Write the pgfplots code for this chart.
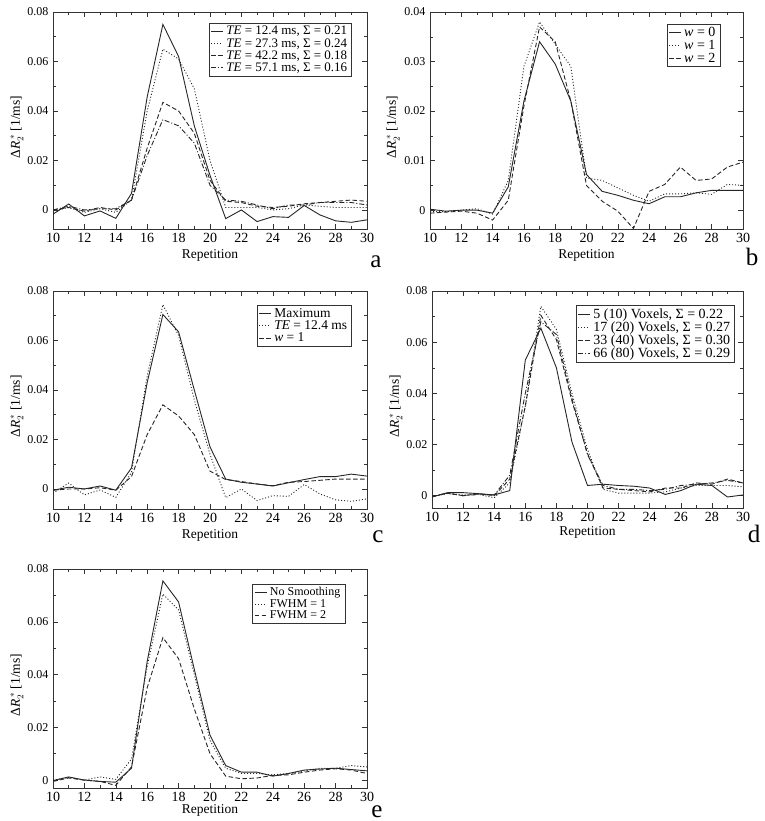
\documentclass[border=0pt]{standalone}
\usepackage{pgfplots}
\pgfplotsset{compat=1.18}
\usepackage{fontspec}
\setmainfont{Liberation Serif}

\pgfplotsset{
  panel/.style={
    scale only axis,
    xmin=10, xmax=30,
    xtick={10,12,...,30},
    minor x tick num=1, minor y tick num=1,
    tick align=inside, xtick pos=both, ytick pos=both,
    major tick length=5pt, minor tick length=3pt,
    axis line style={black!80, line width=0.6pt},
    every tick/.style={black!80, line width=0.5pt},
    scaled y ticks=false,
    /pgf/number format/assume math mode=true,
    yticklabel style={/pgf/number format/fixed, /pgf/number format/precision=2,
      font=\fontsize{12}{14}\selectfont, xshift=-1pt},
    xticklabel style={font=\fontsize{14}{16}\selectfont, yshift=-1pt},
    label style={font=\fontsize{13.5}{15}\selectfont},
    xlabel={Repetition},
    ylabel={Δ\textit{R}$_2^{\,*}$ [1/ms]},
    xlabel style={anchor=base},
    ylabel style={anchor=center},
    legend cell align=left,
    legend style={draw=black!80, line width=0.5pt,
      anchor=north east, inner xsep=2pt, inner ysep=1pt, row sep=-2pt,
      nodes={inner xsep=2.5pt}},
    legend image code/.code={\draw[#1] plot coordinates {(0pt,0pt) (12pt,0pt)};},
  },
  s1/.style={black!85, line width=0.9pt},
  s2/.style={black!85, line width=0.9pt, dash pattern=on 1pt off 2pt},
  s3/.style={black!85, line width=0.9pt, dash pattern=on 4.5pt off 2.5pt},
  s4/.style={black!85, line width=0.9pt, dash pattern=on 5pt off 2pt on 1pt off 2pt},
}
\tikzset{letter/.style={font=\fontsize{25}{27}\selectfont, anchor=base, inner sep=1pt}}

\begin{document}
\begin{tikzpicture}
\path[use as bounding box] (0pt,0pt) rectangle (764pt,-821pt);

% panel a
\begin{axis}[panel, at={(53pt,-12pt)}, anchor=north west, width=314pt, height=217pt,
  ymin=-0.0077, ymax=0.08, ytick={0,0.02,0.04,0.06,0.08},
  xlabel style={at={(axis description cs:0.5,-0.138)}},
  ylabel style={at={(axis description cs:-0.115,0.47)}},
  legend style={font=\fontsize{13}{14}\selectfont, at={(axis description cs:0.952,0.949)}}]
\addplot[s1] coordinates {(10,-0.0017) (11,0.0024) (12,-0.0024) (13,-0.0004) (14,-0.0034) (15,0.0067) (16,0.0457) (17,0.075) (18,0.062) (19,0.034) (20,0.014) (21,-0.0035) (22,0.0) (23,-0.0047) (24,-0.0027) (25,-0.003) (26,0.0018) (27,-0.002) (28,-0.0044) (29,-0.005) (30,-0.004)};
\addlegendentry{\textit{TE} = 12.4 ms, Σ = 0.21}
\addplot[s2] coordinates {(10,-0.0005) (11,0.001) (12,-0.001) (13,0.0005) (14,-0.001) (15,0.004) (16,0.04) (17,0.065) (18,0.061) (19,0.049) (20,0.02) (21,0.001) (22,0.001) (23,0.001) (24,0.0) (25,0.0005) (26,0.002) (27,0.0015) (28,0.001) (29,0.001) (30,0.001)};
\addlegendentry{\textit{TE} = 27.3 ms, Σ = 0.24}
\addplot[s3] coordinates {(10,0.0) (11,0.001) (12,-0.0005) (13,0.001) (14,0.0) (15,0.004) (16,0.025) (17,0.0435) (18,0.040) (19,0.031) (20,0.012) (21,0.0035) (22,0.003) (23,0.0015) (24,0.001) (25,0.0015) (26,0.0025) (27,0.003) (28,0.0035) (29,0.004) (30,0.0035)};
\addlegendentry{\textit{TE} = 42.2 ms, Σ = 0.18}
\addplot[s4] coordinates {(10,0.0) (11,0.0015) (12,0.0) (13,0.0005) (14,0.0005) (15,0.004) (16,0.022) (17,0.0365) (18,0.034) (19,0.027) (20,0.010) (21,0.004) (22,0.0035) (23,0.002) (24,0.0005) (25,0.002) (26,0.002) (27,0.003) (28,0.003) (29,0.003) (30,0.002)};
\addlegendentry{\textit{TE} = 57.1 ms, Σ = 0.16}
\end{axis}

% panel b
\begin{axis}[panel, at={(430pt,-12pt)}, anchor=north west, width=313pt, height=217pt,
  ymin=-0.0038, ymax=0.04, ytick={0,0.01,0.02,0.03,0.04},
  xlabel style={at={(axis description cs:0.5,-0.138)}},
  ylabel style={at={(axis description cs:-0.118,0.47)}},
  legend style={font=\fontsize{14}{15}\selectfont, at={(axis description cs:0.927,0.945)}}]
\addplot[s1] coordinates {(10,0.0002) (11,-0.0002) (12,0.0) (13,0.0) (14,-0.0006) (15,0.0047) (16,0.022) (17,0.034) (18,0.0295) (19,0.022) (20,0.0072) (21,0.0038) (22,0.003) (23,0.002) (24,0.0013) (25,0.0027) (26,0.0027) (27,0.0035) (28,0.004) (29,0.004) (30,0.004)};
\addlegendentry{\textit{w} = 0}
\addplot[s2] coordinates {(10,-0.0003) (11,-0.0003) (12,0.0) (13,0.0003) (14,-0.0008) (15,0.006) (16,0.029) (17,0.038) (18,0.0335) (19,0.029) (20,0.0065) (21,0.006) (22,0.0045) (23,0.003) (24,0.0018) (25,0.0033) (26,0.0033) (27,0.0035) (28,0.0032) (29,0.0052) (30,0.005)};
\addlegendentry{\textit{w} = 1}
\addplot[s3] coordinates {(10,-0.0006) (11,-0.0004) (12,-0.0002) (13,-0.0006) (14,-0.002) (15,0.002) (16,0.021) (17,0.037) (18,0.034) (19,0.022) (20,0.005) (21,0.0018) (22,-0.0002) (23,-0.0037) (24,0.0038) (25,0.0052) (26,0.0087) (27,0.006) (28,0.0063) (29,0.0087) (30,0.0097)};
\addlegendentry{\textit{w} = 2}
\end{axis}

% panel c
\begin{axis}[panel, at={(53pt,-291pt)}, anchor=north west, width=314pt, height=218pt,
  ymin=-0.0081, ymax=0.08, ytick={0,0.02,0.04,0.06,0.08},
  xlabel style={at={(axis description cs:0.5,-0.133)}},
  ylabel style={at={(axis description cs:-0.115,0.47)}},
  legend style={font=\fontsize{13.5}{15}\selectfont, at={(axis description cs:0.952,0.936)}}]
\addplot[s1] coordinates {(10,-0.0005) (11,0.0007) (12,0.0) (13,0.0012) (14,-0.0005) (15,0.0085) (16,0.043) (17,0.0705) (18,0.0635) (19,0.040) (20,0.017) (21,0.004) (22,0.0027) (23,0.002) (24,0.0012) (25,0.0025) (26,0.0038) (27,0.005) (28,0.005) (29,0.006) (30,0.0052)};
\addlegendentry{Maximum}
\addplot[s2] coordinates {(10,-0.0017) (11,0.0024) (12,-0.0024) (13,-0.0004) (14,-0.0034) (15,0.0067) (16,0.0457) (17,0.0745) (18,0.062) (19,0.036) (20,0.014) (21,-0.0035) (22,0.0) (23,-0.0047) (24,-0.0027) (25,-0.003) (26,0.0018) (27,-0.002) (28,-0.0044) (29,-0.005) (30,-0.004)};
\addlegendentry{\textit{TE} = 12.4 ms}
\addplot[s3] coordinates {(10,-0.0005) (11,0.0) (12,0.0) (13,0.0005) (14,-0.0005) (15,0.005) (16,0.022) (17,0.034) (18,0.0295) (19,0.022) (20,0.0072) (21,0.0038) (22,0.003) (23,0.002) (24,0.0013) (25,0.0027) (26,0.003) (27,0.0035) (28,0.004) (29,0.004) (30,0.004)};
\addlegendentry{\textit{w} = 1}
\end{axis}

% panel d
\begin{axis}[panel, at={(432pt,-291pt)}, anchor=north west, width=311pt, height=217pt,
  ymin=-0.0048, ymax=0.08, ytick={0,0.02,0.04,0.06,0.08},
  xlabel style={at={(axis description cs:0.5,-0.127)}},
  ylabel style={at={(axis description cs:-0.116,0.47)}},
  legend style={font=\fontsize{14}{16}\selectfont, at={(axis description cs:0.974,0.935)}}]
\addplot[s1] coordinates {(10,-0.0005) (11,0.0012) (12,0.0012) (13,0.0008) (14,0.0003) (15,0.002) (16,0.053) (17,0.0655) (18,0.050) (19,0.021) (20,0.004) (21,0.0045) (22,0.004) (23,0.0037) (24,0.003) (25,0.0005) (26,0.002) (27,0.0045) (28,0.004) (29,-0.0005) (30,0.0003)};
\addlegendentry{5 (10) Voxels, Σ = 0.22}
\addplot[s2] coordinates {(10,-0.0003) (11,0.0008) (12,0.0003) (13,0.0005) (14,-0.0008) (15,0.005) (16,0.035) (17,0.074) (18,0.065) (19,0.040) (20,0.018) (21,0.0025) (22,0.001) (23,0.001) (24,0.001) (25,0.0015) (26,0.003) (27,0.004) (28,0.004) (29,0.004) (30,0.0035)};
\addlegendentry{17 (20) Voxels, Σ = 0.27}
\addplot[s3] coordinates {(10,-0.0003) (11,0.001) (12,0.0) (13,0.0008) (14,0.0) (15,0.0065) (16,0.035) (17,0.0705) (18,0.061) (19,0.037) (20,0.0165) (21,0.003) (22,0.0025) (23,0.002) (24,0.0015) (25,0.003) (26,0.003) (27,0.005) (28,0.0045) (29,0.0065) (30,0.005)};
\addlegendentry{33 (40) Voxels, Σ = 0.30}
\addplot[s4] coordinates {(10,-0.0003) (11,0.001) (12,0.0) (13,0.0005) (14,0.0003) (15,0.008) (16,0.040) (17,0.068) (18,0.063) (19,0.038) (20,0.016) (21,0.004) (22,0.0025) (23,0.0025) (24,0.002) (25,0.0025) (26,0.004) (27,0.0045) (28,0.005) (29,0.006) (30,0.005)};
\addlegendentry{66 (80) Voxels, Σ = 0.29}
\end{axis}

% panel e
\begin{axis}[panel, at={(53pt,-569pt)}, anchor=north west, width=314pt, height=219pt,
  ymin=-0.003, ymax=0.08, ytick={0,0.02,0.04,0.06,0.08},
  xlabel style={at={(axis description cs:0.5,-0.118)}},
  ylabel style={at={(axis description cs:-0.115,0.47)}},
  legend style={font=\fontsize{12}{14}\selectfont, at={(axis description cs:0.93,0.93)}}]
\addplot[s1] coordinates {(10,-0.0002) (11,0.0012) (12,0.0) (13,-0.0005) (14,-0.0008) (15,0.0045) (16,0.045) (17,0.0755) (18,0.0675) (19,0.042) (20,0.017) (21,0.0055) (22,0.003) (23,0.003) (24,0.0015) (25,0.0025) (26,0.0038) (27,0.0042) (28,0.0045) (29,0.004) (30,0.0035)};
\addlegendentry{No Smoothing}
\addplot[s2] coordinates {(10,0.0) (11,0.001) (12,0.0) (13,0.0012) (14,0.0003) (15,0.008) (16,0.043) (17,0.0705) (18,0.0645) (19,0.040) (20,0.015) (21,0.0045) (22,0.0025) (23,0.0025) (24,0.002) (25,0.0025) (26,0.0035) (27,0.0045) (28,0.0045) (29,0.0055) (30,0.005)};
\addlegendentry{FWHM = 1}
\addplot[s3] coordinates {(10,-0.0005) (11,0.0008) (12,0.0) (13,-0.0005) (14,-0.002) (15,0.005) (16,0.035) (17,0.054) (18,0.046) (19,0.027) (20,0.010) (21,0.0015) (22,0.0005) (23,0.0008) (24,0.0018) (25,0.002) (26,0.003) (27,0.0038) (28,0.0043) (29,0.0038) (30,0.0025)};
\addlegendentry{FWHM = 2}
\end{axis}

% panel letters
\node[letter] at (376pt,-267pt) {a};
\node[letter] at (752pt,-265pt) {b};
\node[letter] at (378pt,-542pt) {c};
\node[letter] at (754pt,-542pt) {d};
\node[letter] at (377pt,-817pt) {e};
\end{tikzpicture}
\end{document}
